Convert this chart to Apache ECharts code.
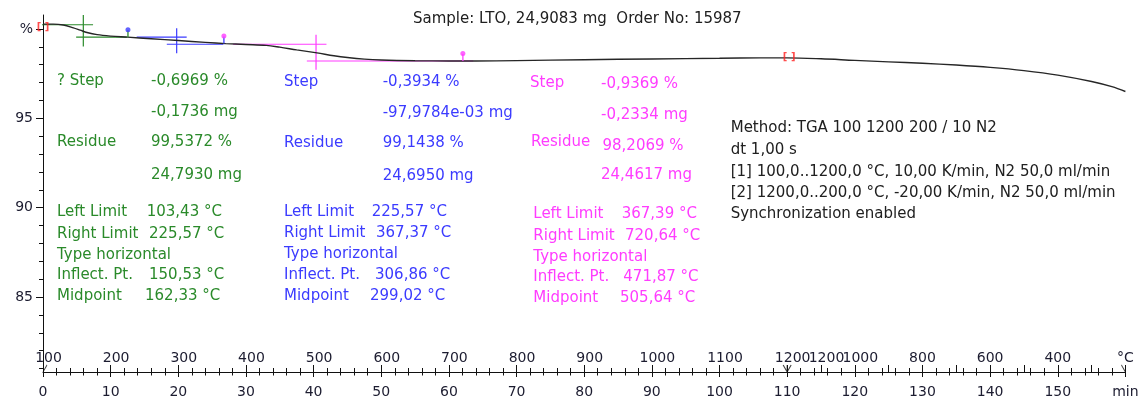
<!DOCTYPE html>
<html>
<head>
<meta charset="utf-8">
<title>TGA – LTO</title>
<script src="https://cdn.jsdelivr.net/npm/echarts@6/dist/echarts.min.js"></script>
<style>
  html, body { margin: 0; padding: 0; background: #fff; }
  #chart { width: 1143px; height: 398px; }
</style>
</head>
<body>
<div id="chart"></div>
<script>
// ---- measured TGA curve: time (min) vs. mass (%) ----
const curveTime = [0, 1.5, 3, 4.5, 5.5, 6.5, 8, 10, 12.5, 16, 20, 24, 27, 30, 33, 35, 37.5, 40.5, 43, 45, 47.5, 50, 55, 60, 64, 70, 80, 90, 100, 106, 110, 115, 120, 125, 130, 135, 140, 145, 150, 155, 158, 160];
const curveWeight = [100.27, 100.27, 100.22, 100.06, 99.93, 99.80, 99.68, 99.60, 99.54, 99.45, 99.35, 99.25, 99.18, 99.13, 99.08, 98.98, 98.83, 98.66, 98.50, 98.40, 98.31, 98.26, 98.22, 98.21, 98.21, 98.23, 98.28, 98.32, 98.36, 98.38, 98.38, 98.33, 98.24, 98.16, 98.08, 97.98, 97.85, 97.67, 97.42, 97.06, 96.77, 96.50];

// ---- step evaluation (three steps) ----
const stepDelta = [-0.6969, -0.3934, -0.9369];        // %
const residueLevel = [99.5372, 99.1438, 98.2069];     // %
const upperFrom = [-1.5, 13.85, 28.1];                // min
const upperTo = [7.4, 21.24, 41.9];
const lowerFrom = [4.9, 18.3, 39.0];
const lowerTo = [12.4, 26.65, 63.6];
const midTime = [5.96, 19.76, 40.36];
const midTop = [100.78, 100.04, 99.67];
const midBottom = [99.02, 98.64, 97.72];
const pinTime = [12.557, 26.737, 62.064];
const pinWeight = [99.54, 99.18, 98.21];
const bracketTime = [0, 110.3];
const bracketWeight = [100.08, 98.38];
const segmentTime = [0, 110, 160];

// ---- step result texts ----
const stepNames = ['? Step', 'Step', 'Step'];
const stepPercent = ['-0,6969 %', '-0,3934 %', '-0,9369 %'];
const stepMass = ['-0,1736 mg', '-97,9784e-03 mg', '-0,2334 mg'];
const residuePercent = ['99,5372 %', '99,1438 %', '98,2069 %'];
const residueMass = ['24,7930 mg', '24,6950 mg', '24,4617 mg'];
const leftLimit = ['103,43 °C', '225,57 °C', '367,39 °C'];
const rightLimit = ['225,57 °C', '367,37 °C', '720,64 °C'];
const inflectPt = ['150,53 °C', '306,86 °C', '471,87 °C'];
const midpointT = ['162,33 °C', '299,02 °C', '505,64 °C'];

const titleText = 'Sample: LTO, 24,9083 mg  Order No: 15987';
const methodLines = [
  'Method: TGA 100 1200 200 / 10 N2',
  'dt 1,00 s',
  '[1] 100,0..1200,0 °C, 10,00 K/min, N2 50,0 ml/min',
  '[2] 1200,0..200,0 °C, -20,00 K/min, N2 50,0 ml/min',
  'Synchronization enabled'
];

// ---- axes ----
const timeMin = 0, timeMax = 160, timeStep = 10;
const yMin = 80.81, yMax = 100.78;
const yLabelValues = [85, 90, 95, 100];
const yMinorValues = [81, 82, 83, 84, 86, 87, 88, 89, 91, 92, 93, 94, 96, 97, 98, 99];
const tempTickTimes = [0, 10, 20, 30, 40, 50, 60, 70, 80, 90, 100, 110, 115, 120, 125, 130, 135, 140, 145, 150, 155, 160];
const tempMinorTimes = [2, 4, 6, 8, 12, 14, 16, 18, 22, 24, 26, 28, 32, 34, 36, 38, 42, 44, 46, 48, 52, 54, 56, 58, 62, 64, 66, 68, 72, 74, 76, 78, 82, 84, 86, 88, 92, 94, 96, 98, 102, 104, 106, 108, 112, 114, 116, 118, 122, 124, 126, 128, 132, 134, 136, 138, 142, 144, 146, 148, 152, 154, 156, 158];
const tempLabelTimes = [0, 10, 20, 30, 40, 50, 60, 70, 80, 90, 100, 110, 115, 120, 130, 140, 150, 160];
const tempLabels = ['100', '200', '300', '400', '500', '600', '700', '800', '900', '1000', '1100', '1200', '1200', '1000', '800', '600', '400', '°C'];

// ---- styling ----
const FONT = 'DejaVu Sans';
const AXIS_COLOR = '#1c1c30';
const stepColor = ['#2a8a2a', '#3b3bff', '#ff3cff'];

const chart = echarts.init(document.getElementById('chart'), null, { renderer: 'canvas' });

const series = [];
series.push({
  type: 'line', name: 'TG', data: curveTime.map((t, i) => [t, curveWeight[i]]),
  showSymbol: false, symbol: 'none', smooth: 0.35, clip: false,
  lineStyle: { color: '#262626', width: 1.4 }, z: 5
});

function seg(points, color, z) {
  return { type: 'line', data: points, symbol: 'none', showSymbol: false, clip: false,
           lineStyle: { color: color, width: 1.2 }, z: z || 3, silent: true };
}
for (let i = 0; i < 3; i++) {
  const upper = residueLevel[i] - stepDelta[i];
  const c = stepColor[i];
  series.push(seg([[upperFrom[i], upper], [upperTo[i], upper]], c));
  series.push(seg([[lowerFrom[i], residueLevel[i]], [lowerTo[i], residueLevel[i]]], c));
  series.push(seg([[midTime[i], midTop[i]], [midTime[i], midBottom[i]]], c));
}

// pins at the right limit of each step
series.push({
  type: 'scatter', clip: false, silent: true, z: 6,
  data: pinTime.map((t, i) => ({ value: [t, pinWeight[i]], itemStyle: { color: stepColor[i] } })),
  symbol: 'rect', symbolSize: [1.6, 7], symbolOffset: [0, -3.5]
});
series.push({
  type: 'scatter', clip: false, silent: true, z: 6,
  data: pinTime.map((t, i) => ({ value: [t, pinWeight[i]], itemStyle: { color: stepColor[Math.min(i + 1, 2)] } })),
  symbol: 'circle', symbolSize: 5, symbolOffset: [0, -7.5]
});

// segment brackets on the curve
series.push({
  type: 'scatter', clip: false, silent: true, z: 7,
  data: bracketTime.map((t, i) => [t, bracketWeight[i]]),
  symbol: 'circle', symbolSize: 2, itemStyle: { color: 'rgba(0,0,0,0)' },
  label: { show: true, position: 'inside', formatter: '[ ]', color: '#ff2020',
           fontFamily: FONT, fontSize: 10, fontWeight: 'bold' }
});

// segment boundary marks on the time axis
const segSymbols = ['path://M0,8L4,0', 'path://M0,0L4,8L8,0M4,0L4,8', 'path://M0,0L4,8'];
series.push({
  type: 'scatter', clip: false, silent: true, z: 7,
  data: segmentTime.map((t, i) => ({ value: [t, yMin], symbol: segSymbols[i],
        symbolSize: i === 1 ? [8, 7] : [4, 7], symbolOffset: [i === 0 ? 2 : (i === 2 ? -2 : 0), -3.5] })),
  itemStyle: { color: 'none', borderColor: '#111', borderWidth: 1 }
});

const texts = [];
function addText(str, x, y, color) {
  texts.push({ type: 'text', x: x, y: y, silent: true,
    style: { text: str, fill: color, font: '15px "' + FONT + '"', verticalAlign: 'middle', align: 'left' } });
}
addText(titleText, 413, 19, '#202020');

// per-step text columns
const colLabel = [57, 284, 530];
const colValue = [151, 382.7, 601];
const rowStep = [80.7, 81.7, 83];
const rowStepValue = [80.7, 81.7, 84];
const rowMass = [112.3, 112.7, 115];
const rowResidue = [141.7, 142.7, 141.7];
const rowResidueValue = [141.7, 142.7, 146];
const rowResMass = [175, 176, 175];
const limitLabelX = [57, 284, 533.3];
const limitRows = [[212.5, 234, 255, 275.5, 296.5], [211.7, 233.3, 254.3, 275, 296], [214, 235.7, 256.7, 277.3, 298.3]];
const limitValueX = [[146.7, 149, 149, 145], [371.7, 376, 375, 370], [621.7, 625, 623.3, 620]];

for (let i = 0; i < 3; i++) {
  const c = stepColor[i];
  addText(stepNames[i], colLabel[i], rowStep[i], c);
  addText(stepPercent[i], colValue[i], rowStepValue[i], c);
  addText(stepMass[i], colValue[i], rowMass[i], c);
  addText('Residue', colLabel[i] + (i === 2 ? 1 : 0), rowResidue[i], c);
  addText(residuePercent[i], colValue[i] + (i === 2 ? 1.5 : 0), rowResidueValue[i], c);
  addText(residueMass[i], colValue[i], rowResMass[i], c);
  const r = limitRows[i], vx = limitValueX[i];
  addText('Left Limit', limitLabelX[i], r[0], c);
  addText(leftLimit[i], vx[0], r[0], c);
  addText('Right Limit', limitLabelX[i], r[1], c);
  addText(rightLimit[i], vx[1], r[1], c);
  addText('Type horizontal', limitLabelX[i], r[2], c);
  addText('Inflect. Pt.', limitLabelX[i], r[3], c);
  addText(inflectPt[i], vx[2], r[3], c);
  addText('Midpoint', limitLabelX[i], r[4], c);
  addText(midpointT[i], vx[3], r[4], c);
}
const methodRows = [128.5, 150.5, 172, 193, 214];
methodLines.forEach((s, i) => addText(s, 730.7, methodRows[i], '#202020'));

const axisText = { color: AXIS_COLOR, fontFamily: FONT, fontSize: 14 };

const option = {
  animation: false,
  backgroundColor: '#ffffff',
  grid: { left: 43, right: 17.6, top: 15, bottom: 26, containLabel: false, outerBoundsMode: 'none' },
  xAxis: [
    { // time
      type: 'value', min: timeMin, max: timeMax, interval: timeStep, position: 'bottom',
      axisLine: { show: true, onZero: false, lineStyle: { color: '#111', width: 1 } },
      axisTick: { show: true, inside: false, length: 5, lineStyle: { color: '#111' } },
      minorTick: { show: true, splitNumber: 5, length: 3.5, lineStyle: { color: '#111' } },
      splitLine: { show: false }, minorSplitLine: { show: false },
      axisLabel: Object.assign({ margin: 13, formatter: v => v === timeMax ? 'min' : String(v) }, axisText)
    },
    { // furnace temperature
      type: 'value', min: timeMin, max: timeMax, position: 'bottom',
      axisLine: { show: false, onZero: false },
      axisTick: { show: true, inside: true, length: 7, customValues: tempTickTimes, lineStyle: { color: '#111' } },
      splitLine: { show: false },
      axisLabel: {
        inside: true, margin: 7, customValues: tempLabelTimes, hideOverlap: false,
        showMinLabel: true, showMaxLabel: true,
        formatter: v => {
          const i = tempLabelTimes.findIndex(t => Math.abs(t - v) < 1e-6);
          if (i < 0) return '';
          return (i < 14 ? '{s|' : '{c|') + tempLabels[i] + '}';
        },
        rich: {
          s: { color: AXIS_COLOR, fontFamily: FONT, fontSize: 14, padding: [0, 0, 0, 11] },
          c: { color: AXIS_COLOR, fontFamily: FONT, fontSize: 14 }
        }
      }
    },
    { // short upward ticks
      type: 'value', min: timeMin, max: timeMax, position: 'bottom',
      axisLine: { show: false, onZero: false },
      axisTick: { show: true, inside: true, length: 4, customValues: tempMinorTimes, lineStyle: { color: '#111' } },
      axisLabel: { show: false }, splitLine: { show: false }
    }
  ],
  yAxis: [
    {
      type: 'value', min: yMin, max: yMax, position: 'left',
      axisLine: { show: true, onZero: false, lineStyle: { color: '#111', width: 1 } },
      axisTick: { show: true, inside: false, length: 7, customValues: yLabelValues, lineStyle: { color: '#111' } },
      splitLine: { show: false },
      axisLabel: Object.assign({ margin: 10, customValues: yLabelValues,
        formatter: v => v === 100 ? '%' : String(v) }, axisText)
    },
    {
      type: 'value', min: yMin, max: yMax, position: 'left',
      axisLine: { show: false, onZero: false },
      axisTick: { show: true, inside: false, length: 4, customValues: yMinorValues, lineStyle: { color: '#111' } },
      splitLine: { show: false }, axisLabel: { show: false }
    }
  ],
  series: series,
  graphic: texts
};
chart.setOption(option);
</script>
</body>
</html>
